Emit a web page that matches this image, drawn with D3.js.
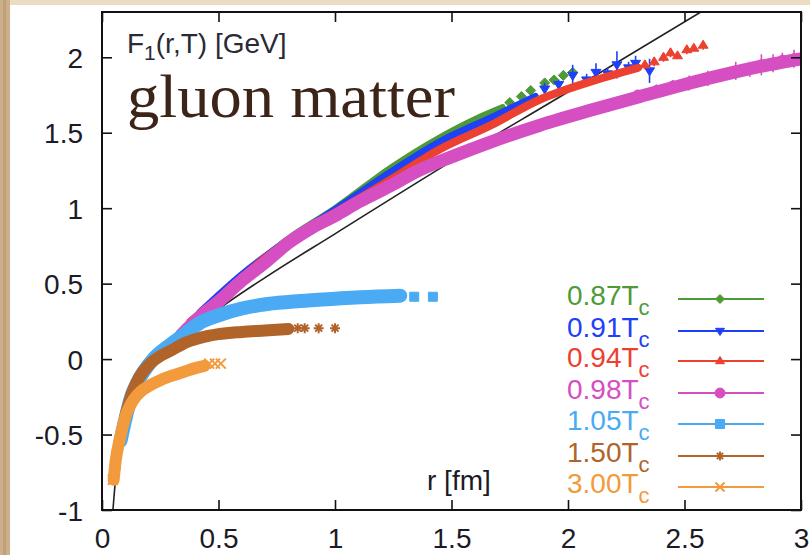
<!DOCTYPE html>
<html>
<head>
<meta charset="utf-8">
<script src="https://cdn.jsdelivr.net/npm/d3@7"></script>
<style>
  body { margin: 0; background: #fff; }
  svg { display: block; }
  text { font-family: "Liberation Sans", Arial, sans-serif; }
</style>
</head>
<body>
<svg width="810" height="555"></svg>
<script>

// ---- data: [r (fm), F1 (GeV), error] ----

const xTicks = [0, 0.5, 1, 1.5, 2, 2.5, 3];
const yTicks = [-1, -0.5, 0, 0.5, 1, 1.5, 2];

// T/Tc labels, in drawing order
const temps = ["0.87", "0.91", "0.94", "0.98", "1.05", "1.50", "3.00"];
const colors = ["#4e9a36", "#1e40f6", "#ec4030", "#d64fc2", "#4aabf4", "#b0642a", "#f29a3c"];
const shapes = ["diamond", "triangleDown", "triangleUp", "circle", "square", "asterisk", "cross"];
const bandWidth = [6, 7, 8, 13, 14, 12, 12];

// dense part of each data set (drawn as a band)
const band087 = [[0.5,0.41],[0.8,0.8],[1.0,1.0],[1.24,1.27],[1.45,1.47],[1.6,1.59],[1.72,1.67]];
const band091 = [[0.42,0.31],[0.6,0.56],[0.8,0.79],[1.0,0.99],[1.24,1.24],[1.45,1.44],[1.67,1.6],[1.86,1.74]];
const band094 = [[0.38,0.25],[0.5,0.4],[0.7,0.67],[0.9,0.88],[1.0,0.97],[1.24,1.19],[1.45,1.39],[1.67,1.55],[1.88,1.72],[2.1,1.84],[2.3,1.93]];
const band098 = [[0.34,0.16],[0.42,0.28],[0.5,0.38],[0.6,0.52],[0.7,0.64],[0.8,0.77],[0.9,0.87],[1.0,0.95],[1.1,1.04],[1.24,1.15],[1.36,1.25],[1.5,1.34],[1.67,1.44],[1.88,1.55],[2.1,1.65],[2.31,1.74],[2.5,1.82],[2.71,1.9],[2.86,1.95],[3.0,1.99]];
const band105 = [[0.08,-0.54],[0.1,-0.4],[0.125,-0.25],[0.15,-0.16],[0.18,-0.08],[0.22,0.0],[0.28,0.08],[0.35,0.16],[0.42,0.24],[0.5,0.29],[0.6,0.335],[0.71,0.365],[0.85,0.385],[1.0,0.4],[1.11,0.41],[1.28,0.42]];
const band150 = [[0.1,-0.38],[0.13,-0.22],[0.16,-0.12],[0.2,-0.04],[0.25,0.02],[0.3,0.06],[0.36,0.11],[0.42,0.14],[0.5,0.165],[0.6,0.18],[0.7,0.19],[0.8,0.2]];
const band300 = [[0.05,-0.8],[0.06,-0.66],[0.075,-0.54],[0.09,-0.44],[0.105,-0.36],[0.12,-0.31],[0.14,-0.26],[0.17,-0.21],[0.21,-0.17],[0.25,-0.14],[0.3,-0.11],[0.35,-0.085],[0.4,-0.06],[0.44,-0.045]];

// sparse points with error bars
const tail087 = [[1.75,1.7,0.02],[1.8,1.74,0.02],[1.84,1.78,0.02],[1.9,1.83,0.03],[1.94,1.85,0.02],[1.98,1.88,0.03],[2.02,1.9,0.03]];
const tail091 = [[1.9,1.79,0.04],[1.96,1.82,0.03],[2.02,1.88,0.07],[2.08,1.85,0.04],[2.12,1.9,0.06],[2.17,1.89,0.04],[2.21,1.95,0.09],[2.26,1.93,0.04],[2.29,1.96,0.05],[2.35,1.91,0.08]];
const tail094 = [[2.33,1.95,0.03],[2.37,1.97,0.03],[2.41,2.0,0.03],[2.44,2.03,0.03],[2.47,2.01,0.02],[2.51,2.05,0.03],[2.54,2.06,0.02],[2.58,2.08,0.03]];
const tail098 = [[2.3,1.75,0.03],[2.38,1.78,0.04],[2.45,1.81,0.04],[2.52,1.83,0.05],[2.6,1.86,0.05],[2.66,1.88,0.04],[2.72,1.91,0.06],[2.78,1.92,0.05],[2.83,1.95,0.07],[2.88,1.96,0.06],[2.92,1.98,0.05],[2.97,1.99,0.06]];
const tail105 = [[1.34,0.413,0.005],[1.42,0.413,0.005]];
const tail150 = [[0.84,0.205,0.005],[0.87,0.205,0.005],[0.93,0.205,0.005],[1.0,0.205,0.005]];
const tail300 = [[0.047,-0.8,0.01],[0.057,-0.7,0.01],[0.46,-0.03,0.005],[0.485,-0.03,0.005],[0.51,-0.03,0.005]];

// black reference curve
const curve = [[0.047,-1.0],[0.05,-0.94],[0.06,-0.77],[0.07,-0.65],[0.08,-0.55],[0.1,-0.42],[0.12,-0.32],[0.15,-0.21],[0.2,-0.09],[0.25,0.0],[0.3,0.08],[0.4,0.21],[0.5,0.33],[0.7,0.54],[1.0,0.83],[1.5,1.31],[2.0,1.77],[2.57,2.3]];

const bands = [band087, band091, band094, band098, band105, band150, band300];
const tails = [tail087, tail091, tail094, tail098, tail105, tail150, tail300];

/************************************************/
/* Chart                                        */
/************************************************/

const svg = d3.select("svg");

// parchment border on the left and top edges
svg.append("rect").attr("x", 0).attr("y", 0).attr("width", 810).attr("height", 5).attr("fill", "#ecdcc2");
svg.append("rect").attr("x", 0).attr("y", 0).attr("width", 10).attr("height", 555).attr("fill", "#cbb08a");
svg.append("rect").attr("x", 3).attr("y", 0).attr("width", 3).attr("height", 555).attr("fill", "#b8986e").attr("opacity", 0.6);

const x = d3.scaleLinear().domain([0, 3]).range([102, 801]);
const y = d3.scaleLinear().domain([-1, 2.3]).range([510, 12]);

const plot = svg.append("g");
svg.append("clipPath").attr("id", "clip")
   .append("rect").attr("x", 102).attr("y", 12).attr("width", 699).attr("height", 498);
plot.attr("clip-path", "url(#clip)");

const line = d3.line().x(d => x(d[0])).y(d => y(d[1])).curve(d3.curveMonotoneX);

plot.append("path")
    .attr("d", line(curve))
    .attr("fill", "none")
    .attr("stroke", "#222")
    .attr("stroke-width", 1.6);

function symbolPath(shape, size) {
    const s = size;
    switch (shape) {
        case "diamond": return `M0,${-s}L${s},0L0,${s}L${-s},0Z`;
        case "triangleDown": return `M${-s},${-s*0.6}L${s},${-s*0.6}L0,${s}Z`;
        case "triangleUp": return `M${-s},${s*0.6}L${s},${s*0.6}L0,${-s}Z`;
        case "circle": return d3.symbol(d3.symbolCircle, Math.PI * s * s)();
        case "square": return `M${-s},${-s}H${s}V${s}H${-s}Z`;
        case "asterisk": return `M${-s},0H${s}M0,${-s}V${s}M${-s*0.7},${-s*0.7}L${s*0.7},${s*0.7}M${-s*0.7},${s*0.7}L${s*0.7},${-s*0.7}`;
        case "cross": return `M${-s},${-s}L${s},${s}M${-s},${s}L${s},${-s}`;
    }
}
const openShape = s => s === "asterisk" || s === "cross";

bands.forEach((b, i) => {
    const g = plot.append("g");
    g.append("path")
        .attr("d", line(b))
        .attr("fill", "none")
        .attr("stroke", colors[i])
        .attr("stroke-width", bandWidth[i])
        .attr("stroke-linecap", "round")
        .attr("stroke-linejoin", "round");

    g.selectAll("path.tail").data(tails[i]).enter().append("path")
        .attr("class", "tail")
        .attr("d", d => `M${x(d[0])},${y(d[1] - d[2])}V${y(d[1] + d[2])}`)
        .attr("stroke", colors[i])
        .attr("stroke-width", 1.6);

    g.selectAll("path.mark").data(tails[i]).enter().append("path")
        .attr("class", "mark")
        .attr("transform", d => `translate(${x(d[0])},${y(d[1])})`)
        .attr("d", symbolPath(shapes[i], shapes[i] === "square" ? 4.5 : 5))
        .attr("fill", openShape(shapes[i]) ? "none" : colors[i])
        .attr("stroke", colors[i])
        .attr("stroke-width", openShape(shapes[i]) ? 2 : 1);
});

// frame and ticks
const tickColor = "#111";
const font = 28;
svg.append("rect")
    .attr("x", 102).attr("y", 12).attr("width", 699).attr("height", 498)
    .attr("fill", "none").attr("stroke", "#111").attr("stroke-width", 2);

const fmt = d => String(d);
const xb = svg.append("g").attr("transform", "translate(0,510)")
    .call(d3.axisBottom(x).tickValues(xTicks).tickSizeInner(-10).tickSizeOuter(0).tickPadding(18).tickFormat(fmt));
const xt = svg.append("g").attr("transform", "translate(0,12)")
    .call(d3.axisTop(x).tickValues(xTicks).tickSizeInner(-10).tickSizeOuter(0).tickFormat(""));
const yl = svg.append("g").attr("transform", "translate(102,0)")
    .call(d3.axisLeft(y).tickValues(yTicks).tickSizeInner(-10).tickSizeOuter(0).tickPadding(19).tickFormat(fmt));
const yr = svg.append("g").attr("transform", "translate(801,0)")
    .call(d3.axisRight(y).tickValues(yTicks).tickSizeInner(-10).tickSizeOuter(0).tickFormat(""));

[xb, xt, yl, yr].forEach(a => {
    a.select(".domain").remove();
    a.selectAll("line").attr("stroke", tickColor).attr("stroke-width", 1.6);
    a.selectAll("text").attr("fill", "#1b1b26").style("font-size", font + "px")
        .style("font-family", "'Liberation Sans', Arial, sans-serif");
});
yl.selectAll("text").attr("dy", "0.36em");

// axis titles
const ytitle = svg.append("text").attr("x", 127).attr("y", 53)
    .attr("fill", "#2a2a36").style("font-size", "28px");
ytitle.append("tspan").text("F");
ytitle.append("tspan").attr("dy", 7).style("font-size", "21px").text("1");
ytitle.append("tspan").attr("dy", -7).text("(r,T) [GeV]");

svg.append("text").attr("x", 427).attr("y", 490)
    .attr("fill", "#1b1b26").style("font-size", "28px").text("r [fm]");

svg.append("text").attr("x", 127).attr("y", 117)
    .attr("fill", "#3c2418")
    .attr("textLength", 328).attr("lengthAdjust", "spacingAndGlyphs")
    .style("font-family", "'Liberation Serif', 'DejaVu Serif', serif")
    .style("font-size", "62px")
    .text("gluon matter");

// legend
const legendY = [299, 331, 361, 393, 424, 456, 487];
temps.forEach((t, i) => {
    const ly = legendY[i];
    const lt = svg.append("text").attr("x", 567).attr("y", ly + 6)
        .attr("fill", colors[i]).style("font-size", "28px");
    lt.append("tspan").text(t + "T");
    lt.append("tspan").attr("dy", 10).style("font-size", "22px").text("c");

    svg.append("line").attr("x1", 678).attr("x2", 764).attr("y1", ly).attr("y2", ly)
        .attr("stroke", colors[i]).attr("stroke-width", 1.8);
    svg.append("path")
        .attr("transform", `translate(720,${ly})`)
        .attr("d", symbolPath(shapes[i], shapes[i] === "square" ? 4.5 : (shapes[i] === "circle" ? 5 : 4.5)))
        .attr("fill", openShape(shapes[i]) ? "none" : colors[i])
        .attr("stroke", colors[i])
        .attr("stroke-width", openShape(shapes[i]) ? 2 : 1);
});

</script>
</body>
</html>
